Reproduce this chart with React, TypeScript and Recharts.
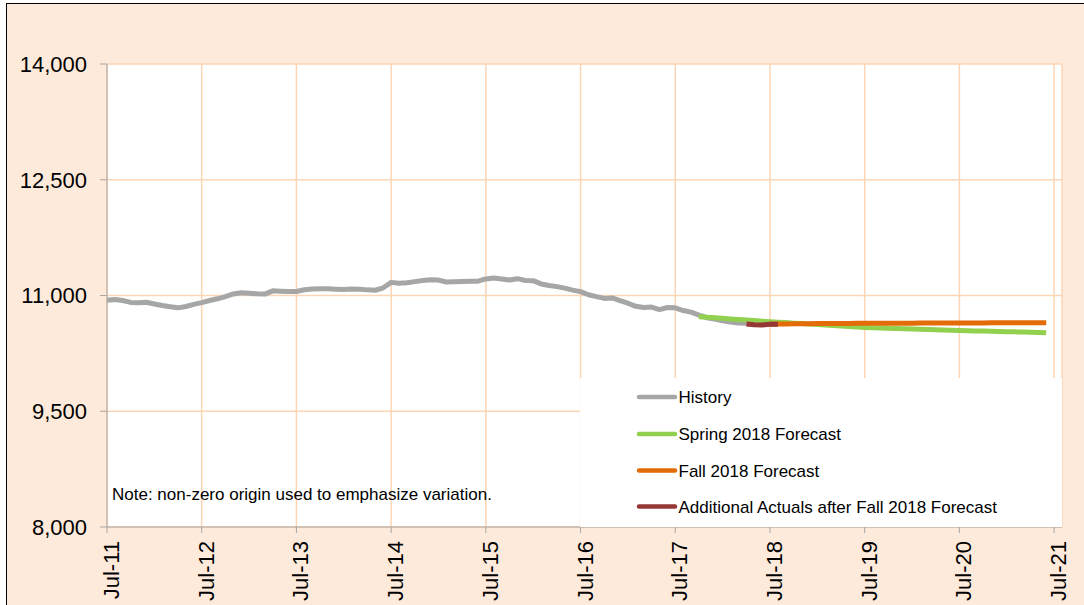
import React from 'react';
import { LineChart, Line, XAxis, YAxis, CartesianGrid, Legend } from 'recharts';

// Monthly index: 0 = Jul-11
const history = [
  10939, 10948, 10935, 10910, 10905, 10912, 10890, 10870, 10855, 10840, 10858, 10885,
  10908, 10935, 10957, 10985, 11020, 11035, 11030, 11022, 11018, 11060, 11056, 11052,
  11052, 11075, 11085, 11088, 11086, 11082, 11078, 11085, 11082, 11073, 11068, 11100,
  11170, 11160, 11165, 11180, 11195, 11205, 11200, 11175, 11178, 11182, 11185, 11185,
  11215, 11228, 11215, 11200, 11218, 11195, 11192, 11150, 11130, 11115, 11095, 11070,
  11050, 11010, 10985, 10962, 10968, 10935, 10900, 10860, 10845, 10850, 10818, 10845,
  10840, 10805, 10785, 10745, 10712, 10695, 10672, 10655, 10645, 10640,
];
const springStart = 75;
const spring = [
  10726, 10719, 10712, 10704, 10697, 10690, 10683, 10676, 10668, 10661, 10655, 10649,
  10642, 10636, 10630, 10623, 10617, 10610, 10604, 10598, 10591, 10585, 10582, 10579,
  10575, 10572, 10569, 10566, 10562, 10559, 10556, 10553, 10549, 10546, 10544, 10541,
  10539, 10536, 10534, 10531, 10529, 10526, 10523, 10521, 10518,
];
const fallStart = 84;
const fall = [
  10628, 10630, 10632, 10633, 10634, 10635, 10636, 10636, 10637, 10638, 10638, 10639,
  10640, 10640, 10641, 10641, 10642, 10642, 10642, 10643, 10643, 10643, 10644, 10644,
  10644, 10645, 10645, 10645, 10646, 10646, 10646, 10647, 10647, 10647, 10648, 10648,
];
const actualsStart = 81;
const actuals = [10630, 10620, 10618, 10626, 10628];

const xTicks = [0, 12, 24, 36, 48, 60, 72, 84, 96, 108, 120];
const xTickLabels = ['Jul-11', 'Jul-12', 'Jul-13', 'Jul-14', 'Jul-15', 'Jul-16', 'Jul-17', 'Jul-18', 'Jul-19', 'Jul-20', 'Jul-21'];
const yTicks = [8000, 9500, 11000, 12500, 14000];

const seriesNames = ['History', 'Spring 2018 Forecast', 'Fall 2018 Forecast', 'Additional Actuals after Fall 2018 Forecast'];
const seriesColors = ['#A6A6A6', '#92D050', '#E36C09', '#953735'];

const pick = (arr: number[], start: number, i: number) =>
  i >= start && i - start < arr.length ? arr[i - start] : null;

const data = Array.from({ length: 120 }, (_, i) => ({
  m: i,
  history: pick(history, 0, i),
  spring: pick(spring, springStart, i),
  fall: pick(fall, fallStart, i),
  actuals: pick(actuals, actualsStart, i),
}));

const FONT = 'Arial, "Liberation Sans", sans-serif';

const XTick = (props: any) => {
  const { x, payload } = props;
  const idx = xTicks.indexOf(payload.value);
  const ax = x + 12;
  const ay = 541;
  return (
    <text
      x={ax}
      y={ay}
      transform={`rotate(-90, ${ax}, ${ay})`}
      textAnchor="end"
      fontSize={22}
      fontFamily={FONT}
      fill="#000"
    >
      {idx >= 0 ? xTickLabels[idx] : ''}
    </text>
  );
};

const LegendContent = () => (
  <svg width={482} height={149} style={{ display: 'block' }}>
    {seriesNames.map((name, i) => {
      const cy = [19, 56, 92.5, 128.5][i];
      return (
        <g key={name}>
          <line x1={59} x2={95} y1={cy} y2={cy} stroke={seriesColors[i]} strokeWidth={4.5} strokeLinecap="round" />
          <text x={98.5} y={cy + 6} fontSize={17} fontFamily={FONT} fill="#000">
            {name}
          </text>
        </g>
      );
    })}
  </svg>
);

const lineProps = {
  type: 'linear' as const,
  strokeWidth: 5,
  dot: false,
  strokeLinejoin: 'round' as const,
  isAnimationActive: false,
};

export default function App() {
  return (
    <div style={{ position: 'absolute', left: 0, top: 0, width: 1084, height: 605, overflow: 'hidden', background: '#fff' }}>
      <div
        style={{
          position: 'absolute',
          left: 6,
          top: 3,
          width: 1120,
          height: 640,
          background: '#FDEADA',
          border: '1px solid #000',
          boxSizing: 'border-box',
        }}
      />
      <div style={{ position: 'absolute', left: 0, top: 0 }}>
        <LineChart width={1084} height={605} data={data} margin={{ top: 64, right: 22, bottom: 0, left: 0 }}>
          <CartesianGrid stroke="#FCD5B4" strokeWidth={1.5} fill="#FFFFFF" />
          <XAxis
            dataKey="m"
            type="number"
            domain={[0, 121]}
            ticks={xTicks}
            interval={0}
            height={78}
            stroke="#A6A6A6"
            tickSize={6}
            tick={<XTick />}
            allowDataOverflow
          />
          <YAxis
            type="number"
            domain={[8000, 14000]}
            ticks={yTicks}
            interval={0}
            width={107}
            stroke="#A6A6A6"
            tickSize={7}
            tickMargin={13}
            tickFormatter={(v: number) => v.toLocaleString('en-US')}
            tick={{ fontSize: 22, fill: '#000', fontFamily: FONT }}
          />
          <Legend
            layout="vertical"
            verticalAlign="middle"
            align="center"
            content={<LegendContent />}
            wrapperStyle={{ position: 'absolute', left: 580, top: 378, width: 482, height: 149, background: '#fff' }}
          />
          <Line {...lineProps} dataKey="history" name={seriesNames[0]} stroke={seriesColors[0]} />
          <Line {...lineProps} dataKey="spring" name={seriesNames[1]} stroke={seriesColors[1]} />
          <Line {...lineProps} dataKey="fall" name={seriesNames[2]} stroke={seriesColors[2]} />
          <Line {...lineProps} dataKey="actuals" name={seriesNames[3]} stroke={seriesColors[3]} />
        </LineChart>
      </div>
      <div
        style={{
          position: 'absolute',
          left: 112,
          top: 485,
          fontSize: 17,
          fontFamily: FONT,
          color: '#000',
          whiteSpace: 'nowrap',
          lineHeight: '20px',
        }}
      >
        Note: non-zero origin used to emphasize variation.
      </div>
    </div>
  );
}
